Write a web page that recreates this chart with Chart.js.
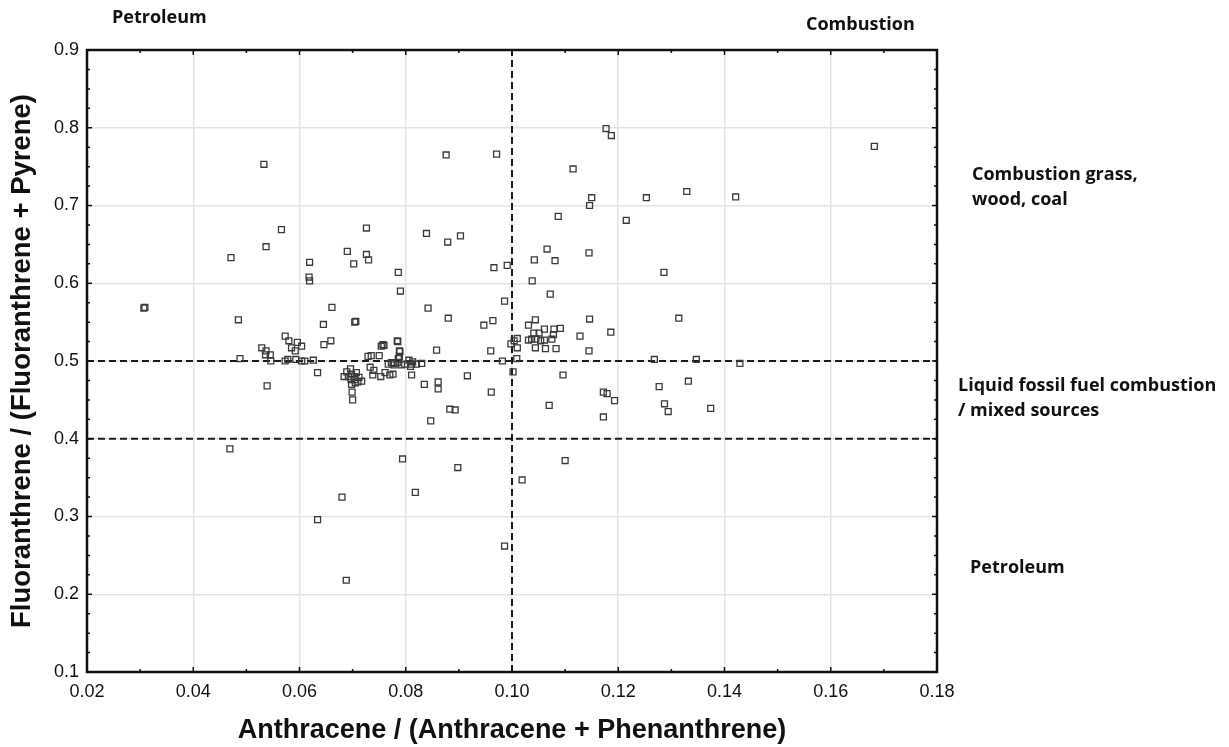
<!DOCTYPE html>
<html>
<head>
<meta charset="utf-8">
<script src="https://cdn.jsdelivr.net/npm/chart.js@4/dist/chart.umd.min.js"></script>
<style>
  html, body { margin: 0; padding: 0; background: #fff; }
  #wrap { width: 1229px; height: 747px; position: relative; }
</style>
</head>
<body>
<div id="wrap"><canvas id="chart" width="1229" height="747"></canvas></div>
<script>
// 軸の範囲と目盛
const xTicks = [0.02, 0.04, 0.06, 0.08, 0.10, 0.12, 0.14, 0.16, 0.18];
const yTicks = [0.1, 0.2, 0.3, 0.4, 0.5, 0.6, 0.7, 0.8, 0.9];

// Anthracene / (Anthracene + Phenanthrene)
const antRatio = [
  0.0307, 0.0309, 0.0471, 0.0469, 0.0533, 0.0537, 0.0566, 0.0485, 0.0488, 0.0573,
  0.0580, 0.0596, 0.0529, 0.0537, 0.0545, 0.0536, 0.0546, 0.0585, 0.0592, 0.0604,
  0.0573, 0.0578, 0.0593, 0.0604, 0.0610, 0.0626, 0.0634, 0.0539, 0.0619, 0.0618,
  0.0619, 0.0661, 0.0645, 0.0704, 0.0706, 0.0659, 0.0646, 0.0690, 0.0726, 0.0726,
  0.0730, 0.0702, 0.0634, 0.0680, 0.0688, 0.0794, 0.0818, 0.0898, 0.0986, 0.1019,
  0.1100, 0.0729, 0.0750, 0.0733, 0.0740, 0.0738, 0.0753, 0.0761, 0.0770, 0.0776,
  0.0754, 0.0759, 0.0785, 0.0789, 0.0788, 0.0786, 0.0773, 0.0767, 0.0776, 0.0778,
  0.0784, 0.0792, 0.0798, 0.0806, 0.0811, 0.0809, 0.0813, 0.0820, 0.0830, 0.0811,
  0.0696, 0.0689, 0.0684, 0.0692, 0.0698, 0.0704, 0.0707, 0.0697, 0.0704, 0.0710,
  0.0717, 0.0698, 0.0699, 0.0700, 0.0712, 0.0705, 0.0786, 0.0790, 0.0784, 0.0788,
  0.0842, 0.0839, 0.0876, 0.0971, 0.0903, 0.0879, 0.0880, 0.0858, 0.0835, 0.0861,
  0.0861, 0.0847, 0.0883, 0.0893, 0.0916, 0.0961, 0.0960, 0.0947, 0.0964, 0.0966,
  0.0991, 0.0986, 0.0982, 0.1009, 0.1002, 0.0998, 0.1004, 0.1010, 0.1010, 0.1031,
  0.1044, 0.1041, 0.1051, 0.1061, 0.1079, 0.1091, 0.1078, 0.1031, 0.1037, 0.1045,
  0.1054, 0.1061, 0.1075, 0.1044, 0.1063, 0.1083, 0.1038, 0.1042, 0.1066, 0.1081,
  0.1072, 0.1087, 0.1115, 0.1128, 0.1096, 0.1070, 0.1177, 0.1187, 0.1150, 0.1146,
  0.1253, 0.1329, 0.1421, 0.1215, 0.1145, 0.1286, 0.1146, 0.1314, 0.1186, 0.1145,
  0.1268, 0.1347, 0.1429, 0.1277, 0.1332, 0.1172, 0.1179, 0.1193, 0.1287, 0.1294,
  0.1374, 0.1172, 0.1682, 0.0735, 0.0757
];

// Fluoranthrene / (Fluoranthrene + Pyrene)
const fluRatio = [
  0.568, 0.569, 0.633, 0.387, 0.753, 0.647, 0.669, 0.553, 0.503, 0.532,
  0.526, 0.524, 0.517, 0.513, 0.508, 0.508, 0.500, 0.517, 0.513, 0.519,
  0.500, 0.502, 0.502, 0.500, 0.500, 0.501, 0.485, 0.468, 0.627, 0.608,
  0.603, 0.569, 0.547, 0.550, 0.551, 0.526, 0.521, 0.641, 0.671, 0.637,
  0.630, 0.625, 0.296, 0.325, 0.218, 0.374, 0.331, 0.363, 0.262, 0.347,
  0.372, 0.506, 0.507, 0.492, 0.488, 0.482, 0.480, 0.485, 0.482, 0.483,
  0.519, 0.520, 0.525, 0.512, 0.506, 0.503, 0.498, 0.496, 0.497, 0.495,
  0.498, 0.495, 0.496, 0.501, 0.496, 0.493, 0.499, 0.496, 0.497, 0.482,
  0.490, 0.486, 0.480, 0.480, 0.483, 0.480, 0.485, 0.476, 0.476, 0.473,
  0.474, 0.470, 0.460, 0.450, 0.479, 0.472, 0.614, 0.590, 0.526, 0.513,
  0.568, 0.664, 0.765, 0.766, 0.661, 0.653, 0.555, 0.514, 0.470, 0.473,
  0.464, 0.423, 0.438, 0.437, 0.481, 0.460, 0.513, 0.546, 0.552, 0.620,
  0.623, 0.577, 0.500, 0.503, 0.486, 0.522, 0.526, 0.529, 0.517, 0.546,
  0.553, 0.536, 0.536, 0.541, 0.541, 0.542, 0.534, 0.527, 0.528, 0.528,
  0.526, 0.527, 0.528, 0.517, 0.516, 0.516, 0.603, 0.630, 0.644, 0.629,
  0.586, 0.686, 0.747, 0.532, 0.482, 0.443, 0.799, 0.790, 0.710, 0.700,
  0.710, 0.718, 0.711, 0.681, 0.639, 0.614, 0.554, 0.555, 0.537, 0.513,
  0.502, 0.502, 0.497, 0.467, 0.474, 0.460, 0.458, 0.449, 0.445, 0.435,
  0.439, 0.428, 0.776, 0.507, 0.521
];

// 区分線（破線）
const fluLimits = [0.4, 0.5];
const antLimits = [0.10];

// 領域ラベル
const zoneLabels = [
  { text: "Petroleum", x: 112, y: 18 },
  { text: "Combustion", x: 806, y: 25 },
  { text: "Combustion grass,", x: 972, y: 175 },
  { text: "wood, coal", x: 972, y: 200 },
  { text: "Liquid fossil fuel combustion", x: 958, y: 386 },
  { text: "/ mixed sources", x: 958, y: 411 },
  { text: "Petroleum", x: 970, y: 568 }
];

const xMin = xTicks[0], xMax = xTicks[xTicks.length - 1];
const yMin = yTicks[0], yMax = yTicks[yTicks.length - 1];

const points = antRatio.map((x, i) => ({ x: x, y: fluRatio[i] }));

const dashStyle = {
  type: "line",
  showLine: true,
  borderColor: "#1a1a1a",
  borderWidth: 2,
  borderDash: [7, 4],
  pointRadius: 0,
  fill: false,
  order: 2
};

const limitSets = [
  ...fluLimits.map(v => ({ ...dashStyle, data: [{ x: xMin, y: v }, { x: xMax, y: v }] })),
  ...antLimits.map(v => ({ ...dashStyle, data: [{ x: v, y: yMin }, { x: v, y: yMax }] }))
];

// 枠線・内向き目盛・ラベル
const framePlugin = {
  id: "frame",
  afterDraw(chart) {
    const { ctx, chartArea: a, scales } = chart;
    ctx.save();
    ctx.strokeStyle = "#111";
    ctx.lineWidth = 2.5;
    ctx.strokeRect(a.left, a.top, a.right - a.left, a.bottom - a.top);

    ctx.lineWidth = 1.5;
    ctx.beginPath();
    // x方向：主目盛と中間目盛
    for (let v = xMin; v <= xMax + 1e-9; v += 0.01) {
      const px = scales.x.getPixelForValue(v);
      const major = Math.abs(Math.round(v / 0.02) * 0.02 - v) < 1e-6;
      const len = major ? 5 : 3;
      ctx.moveTo(px, a.top); ctx.lineTo(px, a.top + len);
      ctx.moveTo(px, a.bottom); ctx.lineTo(px, a.bottom - len);
    }
    // y方向
    for (let v = yMin; v <= yMax + 1e-9; v += 0.025) {
      const py = scales.y.getPixelForValue(v);
      const major = Math.abs(Math.round(v * 10) / 10 - v) < 1e-6;
      const len = major ? 5 : 3;
      ctx.moveTo(a.left, py); ctx.lineTo(a.left + len, py);
      ctx.moveTo(a.right, py); ctx.lineTo(a.right - len, py);
    }
    ctx.stroke();

    ctx.fillStyle = "#111";
    ctx.font = "bold 18px 'Open Sans', Lato, sans-serif";
    ctx.textBaseline = "middle";
    ctx.textAlign = "left";
    zoneLabels.forEach(l => ctx.fillText(l.text, l.x, l.y));
    ctx.restore();
  }
};

const ctx = document.getElementById("chart").getContext("2d");
new Chart(ctx, {
  type: "scatter",
  data: {
    datasets: [
      {
        data: points,
        pointStyle: "rect",
        pointRadius: 4.2,
        borderColor: "#3a3a3a",
        borderWidth: 1.3,
        backgroundColor: "rgba(255,255,255,0)",
        order: 1
      },
      ...limitSets
    ]
  },
  options: {
    responsive: false,
    animation: false,
    layout: { padding: { top: 50, right: 292, bottom: 0, left: 0 } },
    plugins: {
      legend: { display: false },
      tooltip: { enabled: false }
    },
    scales: {
      x: {
        type: "linear",
        min: xMin,
        max: xMax,
        afterBuildTicks: s => { s.ticks = xTicks.map(v => ({ value: v })); },
        afterFit: s => { s.height = 75; },
        grid: { color: "#e4e4e4", lineWidth: 1.5, drawTicks: false },
        border: { display: false },
        ticks: {
          padding: 9,
          color: "#111",
          font: { family: "'Liberation Sans', Arial", size: 18 },
          callback: v => Number(v).toFixed(2)
        },
        title: {
          display: true,
          text: "Anthracene / (Anthracene + Phenanthrene)",
          color: "#111",
          padding: { top: 0, bottom: 0 },
          font: { family: "'Liberation Sans', Arial", size: 27, weight: "bold" }
        }
      },
      y: {
        type: "linear",
        min: yMin,
        max: yMax,
        afterBuildTicks: s => { s.ticks = yTicks.map(v => ({ value: v })); },
        afterFit: s => { s.width = 87; },
        grid: { color: "#e4e4e4", lineWidth: 1.5, drawTicks: false },
        border: { display: false },
        ticks: {
          padding: 8,
          color: "#111",
          font: { family: "'Liberation Sans', Arial", size: 18 },
          callback: v => Number(v).toFixed(1)
        },
        title: {
          display: true,
          text: "Fluoranthrene / (Fluoranthrene + Pyrene)",
          color: "#111",
          padding: { top: 6, bottom: 0 },
          font: { family: "'Liberation Sans', Arial", size: 27.5, weight: "bold" }
        }
      }
    }
  },
  plugins: [framePlugin]
});
</script>
</body>
</html>
